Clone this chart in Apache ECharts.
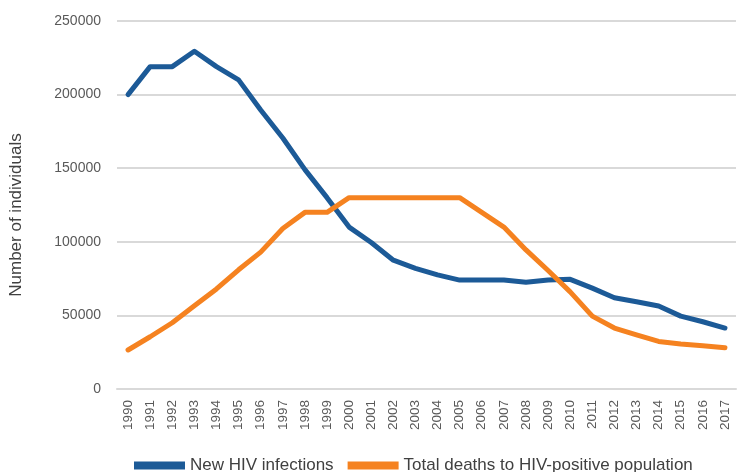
<!DOCTYPE html>
<html>
<head>
<meta charset="utf-8">
<script src="https://cdn.jsdelivr.net/npm/echarts@6/dist/echarts.min.js"></script>
<style>
html,body{margin:0;padding:0;background:#fff;}
#chart{width:737px;height:472px;}
</style>
</head>
<body>
<div id="chart"></div>
<script>
const years = ['1990','1991','1992','1993','1994','1995','1996','1997','1998','1999','2000','2001','2002','2003','2004','2005','2006','2007','2008','2009','2010','2011','2012','2013','2014','2015','2016','2017'];
const newInfections = [200000,219000,219000,229500,219000,210000,189500,170500,149000,130000,110000,99500,87500,82000,77500,74000,74000,74000,72500,74000,74500,68500,62000,59300,56400,49500,45700,41400];
const totalDeaths = [26500,35500,45000,56500,68000,81000,93000,109000,120000,120000,130000,130000,130000,130000,130000,130000,120000,110000,94500,80500,66000,49500,41400,36700,32300,30500,29400,28000];
const seriesNames = ['New HIV infections','Total deaths to HIV-positive population'];
const FONT = "'Liberation Sans',Arial,sans-serif";

const chart = echarts.init(document.getElementById('chart'), null, {renderer:'canvas'});
chart.setOption({
  animation:false,
  textStyle:{fontFamily:FONT},
  grid:{left:116, right:1, top:21, bottom:83, containLabel:false},
  legend:{
    top:452, left:129,
    itemWidth:51, itemHeight:8, itemGap:14,
    icon:'rect',
    textStyle:{fontFamily:FONT, fontSize:17, color:'#404040'},
    data:seriesNames
  },
  xAxis:{
    type:'category', data:years, boundaryGap:true,
    axisLine:{show:true, lineStyle:{color:'#d9d9d9', width:2}},
    axisTick:{show:false},
    axisLabel:{rotate:90, interval:0, fontFamily:FONT, fontSize:13.5, color:'#595959', margin:11}
  },
  yAxis:{
    type:'value', min:0, max:250000, interval:50000,
    name:'Number of individuals', nameLocation:'middle', nameGap:92, nameRotate:90,
    nameTextStyle:{fontFamily:FONT, fontSize:17, color:'#404040', padding:[0,20,0,0]},
    axisLine:{show:false}, axisTick:{show:false},
    splitLine:{lineStyle:{color:'#d9d9d9', width:2}},
    axisLabel:{fontFamily:FONT, fontSize:14, color:'#595959', margin:16, formatter:function(v){return String(v);}}
  },
  series:[
    {name:seriesNames[0], type:'line', data:newInfections, symbol:'none',
     lineStyle:{color:'#1c5a97', width:5, cap:'round', join:'round'}, itemStyle:{color:'#1c5a97'}},
    {name:seriesNames[1], type:'line', data:totalDeaths, symbol:'none',
     lineStyle:{color:'#f58220', width:5, cap:'round', join:'round'}, itemStyle:{color:'#f58220'}}
  ]
});
</script>
</body>
</html>
